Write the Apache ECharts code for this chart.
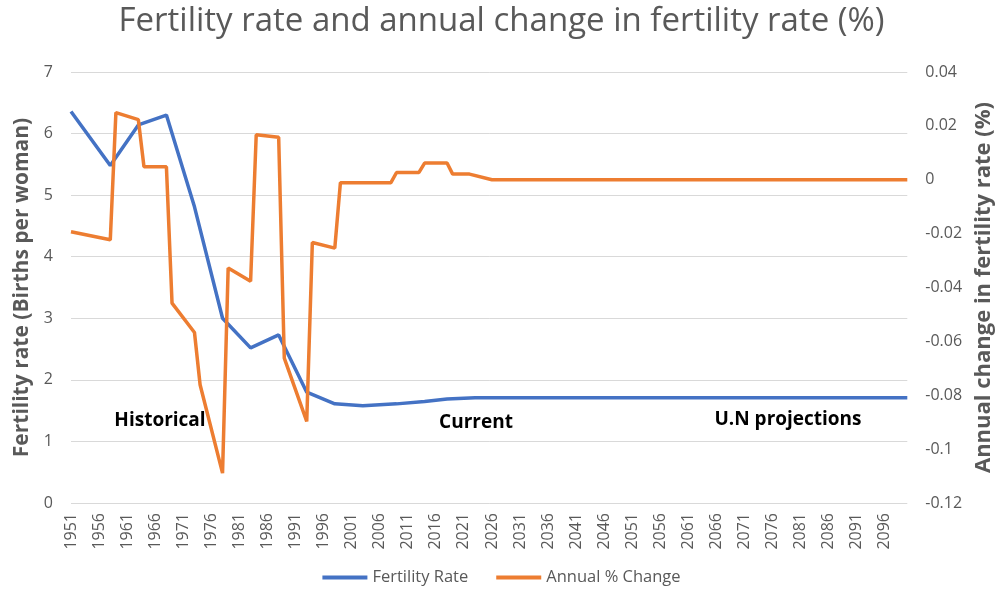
<!DOCTYPE html>
<html lang="en">
<head>
  <meta charset="UTF-8">
  <title>Fertility rate and annual change</title>
  <script src="https://cdn.jsdelivr.net/npm/echarts@6/dist/echarts.min.js"></script>
  <style>
    html, body { margin: 0; padding: 0; background: #fff; }
    #main { width: 1003px; height: 594px; }
  </style>
</head>
<body>
  <div id="main"></div>
  <script>
    // x axis: one category per year
    var firstYear = 1951, lastYear = 2100;
    var years = [];
    for (var y = firstYear; y <= lastYear; y++) years.push(String(y));

    // fertility rate, read at the line's corners
    var fertYears  = ['1951','1958','1963','1968','1973','1978','1983','1988','1993','1998','2003','2009','2014','2018','2023','2100'];
    var fertValues = [6.36, 5.48, 6.14, 6.30, 4.81, 3.00, 2.52, 2.73, 1.80, 1.61, 1.58, 1.61, 1.65, 1.69, 1.71, 1.71];

    // annual % change, read at the line's corners
    var chgYears  = ['1951','1958','1959','1963','1964','1968','1969','1973','1974','1978','1979','1983','1984','1988','1989','1993','1994','1998','1999','2008','2009','2013','2014','2018','2019','2022','2026','2100'];
    var chgValues = [-0.0193, -0.0223, 0.0249, 0.0223, 0.0048, 0.0048, -0.0458, -0.0567, -0.0761, -0.1089, -0.0328, -0.0377, 0.0167, 0.0158, -0.0662, -0.0897, -0.0233, -0.0254, -0.0011, -0.0011, 0.0027, 0.0027, 0.0062, 0.0062, 0.0021, 0.0021, 0, 0];

    // period notes
    var notes = ['Historical', 'Current', 'U.N projections'];

    var font = 'Open Sans';
    var grey = '#595959';

    function pairs(xs, vs) {
      var out = [];
      for (var i = 0; i < xs.length; i++) out.push([xs[i], vs[i]]);
      return out;
    }

    var chart = echarts.init(document.getElementById('main'));
    var option = {
      backgroundColor: '#fff',
      animation: false,
      title: {
        text: 'Fertility rate and annual change in fertility rate (%)',
        left: 'center', top: 0,
        textStyle: { fontFamily: font, fontSize: 33, fontWeight: 'normal', color: grey }
      },
      grid: { left: 71, right: 91, top: 72, bottom: 91 },
      legend: {
        bottom: 3, left: 'center', itemWidth: 45, itemHeight: 4, itemGap: 28,
        icon: 'rect',
        textStyle: { fontFamily: font, fontSize: 16.5, color: grey },
        data: ['Fertility Rate', 'Annual % Change']
      },
      xAxis: {
        type: 'category',
        data: years,
        boundaryGap: false,
        axisLine: { show: false },
        axisTick: { show: false },
        axisLabel: { interval: 4, rotate: 90, margin: 10, fontFamily: font, fontSize: 16, color: grey }
      },
      yAxis: [{
        type: 'value', min: 0, max: 7, interval: 1,
        name: 'Fertility rate (Births per woman)',
        nameLocation: 'middle', nameRotate: 90, nameGap: 36,
        nameTextStyle: { fontFamily: font, fontSize: 21, fontWeight: 'bold', color: grey },
        axisLine: { show: false }, axisTick: { show: false },
        axisLabel: { margin: 18, fontFamily: font, fontSize: 16, color: grey },
        splitLine: { lineStyle: { color: '#d9d9d9', width: 1 } }
      }, {
        type: 'value', min: -0.12, max: 0.04, interval: 0.02,
        name: 'Annual change in fertility rate (%)',
        nameLocation: 'middle', nameRotate: 90, nameGap: 64,
        nameTextStyle: { fontFamily: font, fontSize: 22, fontWeight: 'bold', color: grey },
        axisLine: { show: false }, axisTick: { show: false },
        axisLabel: {
          margin: 18, fontFamily: font, fontSize: 16, color: grey,
          formatter: function (v) { return String(+v.toFixed(2)); }
        },
        splitLine: { show: false }
      }],
      series: [{
        name: 'Fertility Rate', type: 'line', yAxisIndex: 0,
        data: pairs(fertYears, fertValues),
        symbol: 'none', connectNulls: true,
        lineStyle: { color: '#4472C4', width: 3.5 },
        itemStyle: { color: '#4472C4' }
      }, {
        name: 'Annual % Change', type: 'line', yAxisIndex: 1,
        data: pairs(chgYears, chgValues),
        symbol: 'none', connectNulls: true,
        lineStyle: { color: '#ED7D31', width: 3.5 },
        itemStyle: { color: '#ED7D31' }
      }],
      graphic: [
        { type: 'text', x: 160, y: 421, style: { text: notes[0], align: 'center', verticalAlign: 'middle', font: 'bold 19px "' + font + '"', fill: '#000' } },
        { type: 'text', x: 476, y: 423, style: { text: notes[1], align: 'center', verticalAlign: 'middle', font: 'bold 19px "' + font + '"', fill: '#000' } },
        { type: 'text', x: 788, y: 420, style: { text: notes[2], align: 'center', verticalAlign: 'middle', font: 'bold 19px "' + font + '"', fill: '#000' } }
      ]
    };
    chart.setOption(option);
  </script>
</body>
</html>
